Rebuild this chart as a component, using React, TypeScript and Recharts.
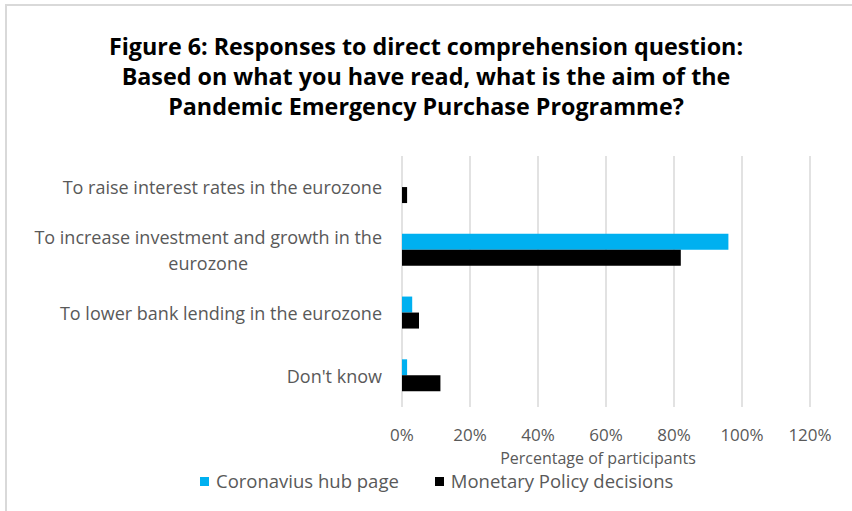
import React from 'react';
import { BarChart, Bar, XAxis, YAxis, CartesianGrid, Legend } from 'recharts';

const categories = [
  'To raise interest rates in the eurozone',
  'To increase investment and growth in the\neurozone',
  'To lower bank lending in the eurozone',
  "Don't know",
];
const hubValues = [0, 0.96, 0.03, 0.015];
const policyValues = [0.015, 0.82, 0.05, 0.113];
const xTicks = [0, 0.2, 0.4, 0.6, 0.8, 1.0, 1.2];
const titleLines = [
  'Figure 6: Responses to direct comprehension question:',
  'Based on what you have read, what is the aim of the',
  'Pandemic Emergency Purchase Programme?',
];

const data = categories.map((name, i) => ({ name, hub: hubValues[i], policy: policyValues[i] }));

const FONT = '"Open Sans", Lato, sans-serif';
const GREY = '#595959';
const TICK_SIZE = 18;

let ctx: CanvasRenderingContext2D | null = null;
const measure = (s: string, font: string) => {
  if (!ctx) ctx = document.createElement('canvas').getContext('2d');
  if (!ctx) return s.length * 8;
  ctx.font = font;
  return ctx.measureText(s).width;
};

const CategoryTick = (props: any) => {
  const { x, y, payload } = props;
  const lines: string[] = String(payload.value).split('\n');
  const w = Math.max(...lines.map((l) => measure(l, `${TICK_SIZE}px "Open Sans"`)));
  const cx = x - 12 - w / 2;
  const lh = 26;
  const y0 = y - ((lines.length - 1) * lh) / 2;
  return (
    <text fill={GREY} fontSize={TICK_SIZE} fontFamily={FONT} textAnchor="middle" dominantBaseline="central">
      {lines.map((l, i) => (
        <tspan key={i} x={cx} y={y0 + i * lh}>{l}</tspan>
      ))}
    </text>
  );
};

const LegendContent = () => (
  <div style={{ display: 'flex', justifyContent: 'flex-start', paddingLeft: 200, fontFamily: FONT, fontSize: 18.5, lineHeight: '20px', color: GREY }}>
    {[
      { label: 'Coronavius hub page', color: '#00b0f0' },
      { label: 'Monetary Policy decisions', color: '#000000' },
    ].map((it) => (
      <div key={it.label} style={{ display: 'flex', alignItems: 'center', marginRight: 36 }}>
        <span style={{ width: 9, height: 9, background: it.color, display: 'inline-block', marginRight: 7 }} />
        <span>{it.label}</span>
      </div>
    ))}
  </div>
);

export default function App() {
  return (
    <div style={{ position: 'absolute', left: 0, top: 0, width: 852, height: 511, overflow: 'hidden', background: '#fff' }}>
      <div style={{ position: 'absolute', left: 5, top: 4, width: 900, height: 600, border: '2px solid #d9d9d9' }} />
      <div
        style={{
          position: 'absolute', left: 0, top: 31, width: 852, textAlign: 'center',
          fontFamily: FONT, fontWeight: 'bold', fontSize: 23.3, lineHeight: '30px', color: '#000',
        }}
      >
        {titleLines.map((t) => (
          <div key={t}>{t}</div>
        ))}
      </div>
      <div style={{ position: 'absolute', left: 0, top: 0 }}>
        <BarChart
          width={852}
          height={511}
          data={data}
          layout="vertical"
          margin={{ top: 156, right: 42, left: 0, bottom: 44 }}
          barCategoryGap="24%"
          barGap={0}
        >
          <CartesianGrid horizontal={false} stroke="#d9d9d9" strokeWidth={1.5} />
          <XAxis
            type="number"
            domain={[0, 1.2]}
            ticks={xTicks}
            tickFormatter={(v: number) => `${Math.round(v * 100)}%`}
            axisLine={false}
            tickLine={false}
            height={60}
            tick={{ fill: GREY, fontSize: 17, fontFamily: FONT }}
            tickMargin={16}
            label={{ value: 'Percentage of participants', position: 'insideBottom', offset: 3, dx: -8, fill: GREY, fontSize: 16, fontFamily: FONT }}
          />
          <YAxis
            type="category"
            dataKey="name"
            width={402}
            axisLine={false}
            tickLine={false}
            tick={<CategoryTick />}
            interval={0}
          />
          <Legend
            layout="horizontal"
            verticalAlign="middle"
            align="center"
            wrapperStyle={{ top: 471, left: 0, width: 852 }}
            content={<LegendContent />}
          />
          <Bar dataKey="hub" name="Coronavius hub page" fill="#00b0f0" isAnimationActive={false} />
          <Bar dataKey="policy" name="Monetary Policy decisions" fill="#000000" isAnimationActive={false} />
        </BarChart>
      </div>
    </div>
  );
}
